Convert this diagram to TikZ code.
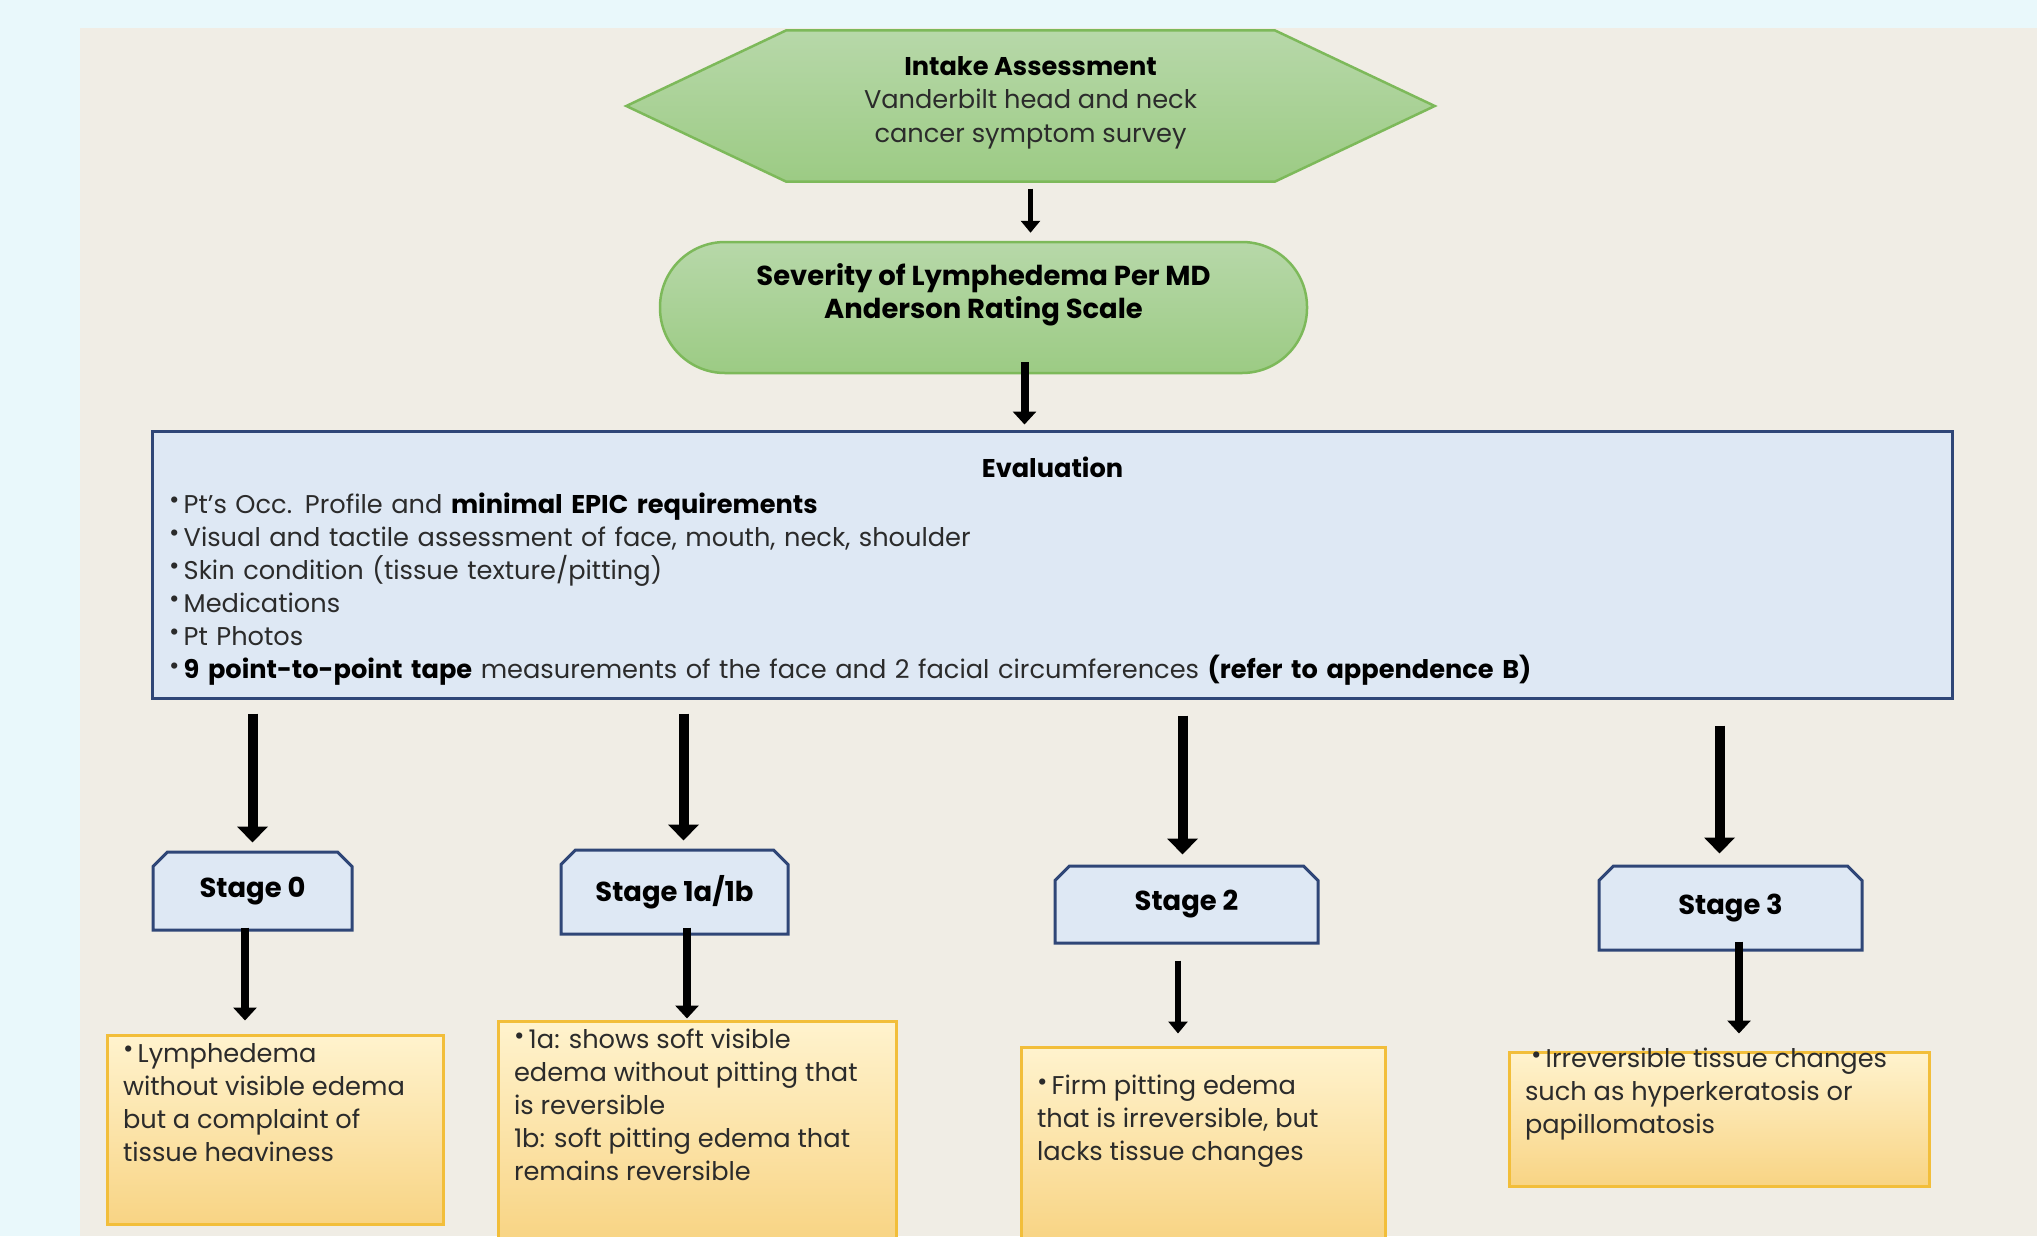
\documentclass[tikz,border=0pt]{standalone}
\usepackage{fontspec}
\setmainfont{Poppins}
\usetikzlibrary{arrows.meta,shapes.misc,backgrounds}

\definecolor{pagecyan}{HTML}{E9F8FB}
\definecolor{panelbeige}{HTML}{F0EDE5}
\definecolor{greentop}{HTML}{B7D8A9}
\definecolor{greenbot}{HTML}{9CCB84}
\definecolor{greenline}{HTML}{7DB95A}
\definecolor{stagefill}{HTML}{DEE8F4}
\definecolor{stageline}{HTML}{2F4677}
\definecolor{notetop}{HTML}{FFF3CE}
\definecolor{notebot}{HTML}{F8D484}
\definecolor{noteline}{HTML}{F2BE3A}
\definecolor{inkgray}{HTML}{2B2B2B}

\newcommand{\bul}{\raisebox{.3ex}{\fontsize{7.2}{7.2}\selectfont\textbullet}\,}

\tikzset{
  every node/.style={font=\fontsize{7.3}{9.4}\selectfont, text=inkgray},
  greenshape/.style={draw=greenline, line width=.25mm, top color=greentop, bottom color=greenbot},
  stagebox/.style={chamfered rectangle, chamfered rectangle corners={north west,north east},
    chamfered rectangle xsep=.65mm, chamfered rectangle ysep=.8mm,
    draw=stageline, line width=.3mm, fill=stagefill,
    font=\fontsize{7.8}{9.4}\selectfont\bfseries, text=black},
  notebox/.style={draw=noteline, line width=.3mm, top color=notetop, bottom color=notebot,
    inner xsep=1.6mm, inner ysep=.8mm},
  bigarrow/.style={line width=1mm, -{Triangle[width=3mm,length=1.6mm]}},
  midarrow/.style={line width=.8mm, -{Triangle[width=2.3mm,length=1.3mm]}},
  thinarrow/.style={line width=.55mm, -{Triangle[width=1.9mm,length=1.2mm]}},
}

\begin{document}
\begin{tikzpicture}[x=1mm, y=-1mm]
  \useasboundingbox (0,0) rectangle (203.7,123.6);
  \begin{scope}[on background layer]
    \fill[pagecyan] (0,0) rectangle (203.7,123.6);
    \fill[panelbeige] (8,2.8) rectangle (203.7,123.6);
  \end{scope}

  % top of the chart
  \node[minimum width=80.7mm, minimum height=15mm, align=center] (intake) at (103.05,10.6)
    {\textbf{\color{black}Intake Assessment}\\Vanderbilt head and neck\\cancer symptom survey\\[-2mm]\mbox{}};
  \begin{scope}[on background layer]
    \filldraw[greenshape] (intake.west) -- ([xshift=16mm]intake.north west)
      -- ([xshift=-16mm]intake.north east) -- (intake.east)
      -- ([xshift=-16mm]intake.south east) -- ([xshift=16mm]intake.south west) -- cycle;
  \end{scope}
  \node[greenshape, rounded corners=6.5mm, minimum width=64.7mm, minimum height=13.1mm,
    align=center, font=\fontsize{7.8}{9.4}\selectfont\bfseries, text=black] (severity) at (98.35,30.75)
    {Severity of Lymphedema Per MD\\Anderson Rating Scale\\ \mbox{}};

  \node[draw=stageline, line width=.3mm, fill=stagefill, minimum width=179.9mm, minimum height=26.7mm,
    text width=176.7mm, align=left] (eval) at (105.25,56.45)
    {\mbox{}\\
     \hfill\textbf{\color{black}Evaluation}\hfill\null\\[.3mm]
     \bul Pt’s Occ. Profile and \textbf{\color{black}minimal EPIC requirements}\\
     \bul Visual and tactile assessment of face, mouth, neck, shoulder\\
     \bul Skin condition (tissue texture/pitting)\\
     \bul Medications\\
     \bul Pt Photos\\
     \bul \textbf{\color{black}9 point-to-point tape} measurements of the face and 2 facial circumferences \textbf{\color{black}(refer to appendence B)}};

  % stages
  \node[stagebox, minimum width=19.9mm, minimum height=7.8mm] (stage0) at (25.25,89.1) {Stage 0};
  \node[stagebox, minimum width=22.7mm, minimum height=8.4mm] (stage1) at (67.45,89.2) {Stage 1a/1b};
  \node[stagebox, minimum width=26.3mm, minimum height=7.7mm] (stage2) at (118.65,90.45) {Stage 2};
  \node[stagebox, minimum width=26.3mm, minimum height=8.4mm] (stage3) at (173.05,90.8) {Stage 3};

  % descriptions
  \node[notebox] (note0) at (27.5,112.95)
    {\parbox[c][17.3mm][t]{30.4mm}{\raggedright \bul Lymphedema\\without visible edema\\but a complaint of\\tissue heaviness}};
  \node[notebox] (note1) at (69.7,113.05)
    {\parbox[c][20.3mm][t]{36.6mm}{\raggedright \bul 1a: shows soft visible\\edema without pitting that\\is reversible\\1b: soft pitting edema that\\remains reversible}};
  \node[notebox] (note2) at (120.3,114.35)
    {\parbox[c][17.7mm][t]{33.2mm}{\raggedright\vspace*{2mm} \bul Firm pitting edema\\that is irreversible, but\\lacks tissue changes}};
  \node[notebox] (note3) at (171.9,111.9)
    {\parbox[c][11.8mm][t]{38.8mm}{\raggedright\vspace*{-1.2mm} \hspace*{.6mm}\bul Irreversible tissue changes\\such as hyperkeratosis or\\papillomatosis}};

  % arrows
  \draw[thinarrow] ([yshift=-.7mm]intake.south) -- ([yshift=.8mm]intake.south |- severity.north);
  \draw[midarrow] ([xshift=-.6mm,yshift=1.2mm]severity.south -| intake.south)
    -- ([xshift=-.6mm,yshift=.5mm]eval.north -| intake.south);
  \foreach \s/\dx/\ga/\gb in {stage0/0/1.4/.8, stage1/.9/1.4/.8, stage2/-.4/1.6/1, stage3/-1.1/2.6/1.1}
    \draw[bigarrow] ([xshift=\dx mm,yshift=-\ga mm]eval.south -| \s.north) -- ([xshift=\dx mm,yshift=\gb mm]\s.north);
  \draw[midarrow] ([xshift=-.75mm,yshift=.4mm]stage0.south) -- ([xshift=-.75mm,yshift=1.3mm]note0.north -| stage0.south);
  \draw[midarrow] ([xshift=1.25mm,yshift=.8mm]stage1.south) -- ([xshift=1.25mm,yshift=.1mm]note1.north -| stage1.south);
  \draw[thinarrow] ([xshift=-.85mm,yshift=-1.6mm]stage2.south) -- ([xshift=-.85mm,yshift=1.2mm]note2.north -| stage2.south);
  \draw[midarrow] ([xshift=.85mm,yshift=1mm]stage3.south) -- ([xshift=.85mm,yshift=1.7mm]note3.north -| stage3.south);
\end{tikzpicture}
\end{document}
